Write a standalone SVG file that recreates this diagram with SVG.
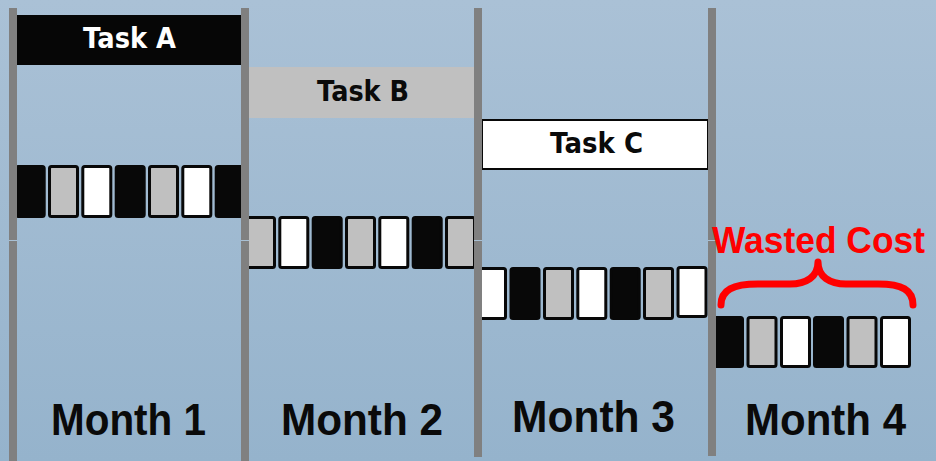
<svg xmlns="http://www.w3.org/2000/svg" width="936" height="461" viewBox="0 0 936 461">
  <defs>
    <linearGradient id="bg" x1="0" y1="0" x2="0" y2="1">
      <stop offset="0" stop-color="#aac1d6"/>
      <stop offset="1" stop-color="#95b3cc"/>
    </linearGradient>
    <style>
      .blk { stroke: #080808; stroke-width: 3; }
      .k { fill: #080808; }
      .g { fill: #c0c0c0; }
      .w { fill: #ffffff; }
      .bar { fill: #808080; }
      .task { font-family: "DejaVu Sans", "Liberation Sans", sans-serif; font-weight: bold; font-size: 28px; }
      .month { font-family: "Liberation Sans", "DejaVu Sans", sans-serif; font-weight: bold; font-size: 45px; fill: #0a0a0a; }
    </style>
  </defs>

  <!-- background -->
  <rect x="0" y="0" width="936" height="461" fill="url(#bg)"/>

  <!-- task bands -->
  <g id="task-a">
    <rect x="17" y="15" width="224" height="50" fill="#060606"/>
    <text class="task" x="83" y="48" fill="#ffffff" textLength="93" lengthAdjust="spacingAndGlyphs">Task A</text>
  </g>
  <g id="task-b">
    <rect x="249" y="67" width="225" height="51" fill="#c0c0c0"/>
    <text class="task" x="317" y="101" fill="#0a0a0a" textLength="92" lengthAdjust="spacingAndGlyphs">Task B</text>
  </g>
  <g id="task-c">
    <rect x="482" y="120" width="226" height="49" fill="#ffffff" stroke="#080808" stroke-width="2"/>
    <text class="task" x="550" y="153" fill="#0a0a0a" textLength="93" lengthAdjust="spacingAndGlyphs">Task C</text>
  </g>

  <!-- month 1 cost blocks -->
  <g id="blocks-1" class="blk">
    <rect class="k" x="16.2" y="166.5" width="28" height="50" rx="2"/>
    <rect class="g" x="49.5" y="166.5" width="28" height="50" rx="2"/>
    <rect class="w" x="82.8" y="166.5" width="28" height="50" rx="2"/>
    <rect class="k" x="116.2" y="166.5" width="28" height="50" rx="2"/>
    <rect class="g" x="149.5" y="166.5" width="28" height="50" rx="2"/>
    <rect class="w" x="182.8" y="166.5" width="28" height="50" rx="2"/>
    <rect class="k" x="216.2" y="166.5" width="28" height="50" rx="2"/>
  </g>

  <!-- month 2 cost blocks -->
  <g id="blocks-2" class="blk">
    <rect class="g" x="246.5" y="217.5" width="28" height="50" rx="2"/>
    <rect class="w" x="279.8" y="217.5" width="28" height="50" rx="2"/>
    <rect class="k" x="313.2" y="217.5" width="28" height="50" rx="2"/>
    <rect class="g" x="346.5" y="217.5" width="28" height="50" rx="2"/>
    <rect class="w" x="379.8" y="217.5" width="28" height="50" rx="2"/>
    <rect class="k" x="413.2" y="217.5" width="28" height="50" rx="2"/>
    <rect class="g" x="446.5" y="217.5" width="28" height="50" rx="2"/>
  </g>

  <!-- month 3 cost blocks -->
  <g id="blocks-3" class="blk">
    <rect class="w" x="477.5" y="268.5" width="28" height="50" rx="2"/>
    <rect class="k" x="511" y="268.5" width="28" height="50" rx="2"/>
    <rect class="g" x="544.5" y="268.5" width="28" height="50" rx="2"/>
    <rect class="w" x="577.8" y="268.5" width="28" height="50" rx="2"/>
    <rect class="k" x="611.2" y="268.5" width="28" height="50" rx="2"/>
    <rect class="g" x="644.5" y="268.5" width="28" height="50" rx="2"/>
    <rect class="w" x="678" y="267.5" width="28" height="49" rx="2"/>
  </g>

  <!-- month 4 cost blocks -->
  <g id="blocks-4" class="blk">
    <rect class="k" x="714.5" y="317.5" width="28" height="49" rx="2"/>
    <rect class="g" x="748" y="317.5" width="28" height="49" rx="2"/>
    <rect class="w" x="781.5" y="317.5" width="28" height="49" rx="2"/>
    <rect class="k" x="814.5" y="317.5" width="28" height="49" rx="2"/>
    <rect class="g" x="848" y="317.5" width="28" height="49" rx="2"/>
    <rect class="w" x="881.5" y="317.5" width="28" height="49" rx="2"/>
  </g>

  <!-- month dividers -->
  <g id="dividers">
    <rect class="bar" x="9" y="8" width="8" height="453"/>
    <rect class="bar" x="241" y="8" width="8" height="453"/>
    <rect class="bar" x="474" y="8" width="8" height="449"/>
    <rect class="bar" x="708" y="8" width="8" height="448"/>
    <g fill="#a9c0d4">
      <rect x="9" y="240" width="8" height="1"/>
      <rect x="241" y="240" width="8" height="1"/>
      <rect x="474" y="240" width="8" height="1"/>
      <rect x="708" y="240" width="8" height="1"/>
    </g>
  </g>

  <!-- wasted cost brace -->
  <g id="wasted-cost">
    <path d="M 721 305 C 721 290 733 284 758 284 L 790 284 C 806 284 818 277 818 262 C 818 277 830 284 846 284 L 878 284 C 902 284 913 290 913 305" fill="none" stroke="#ff0000" stroke-width="7" stroke-linecap="round" stroke-linejoin="round"/>
    <text x="712" y="253" font-family="Liberation Sans, DejaVu Sans, sans-serif" font-weight="bold" font-size="37" fill="#ff0000" textLength="213" lengthAdjust="spacingAndGlyphs">Wasted Cost</text>
  </g>

  <!-- month labels -->
  <g id="month-labels">
    <text class="month" x="51" y="435" textLength="155" lengthAdjust="spacingAndGlyphs">Month 1</text>
    <text class="month" x="281" y="435" textLength="162" lengthAdjust="spacingAndGlyphs">Month 2</text>
    <text class="month" x="512" y="432" textLength="163" lengthAdjust="spacingAndGlyphs">Month 3</text>
    <text class="month" x="745" y="435" textLength="161" lengthAdjust="spacingAndGlyphs">Month 4</text>
  </g>
</svg>
